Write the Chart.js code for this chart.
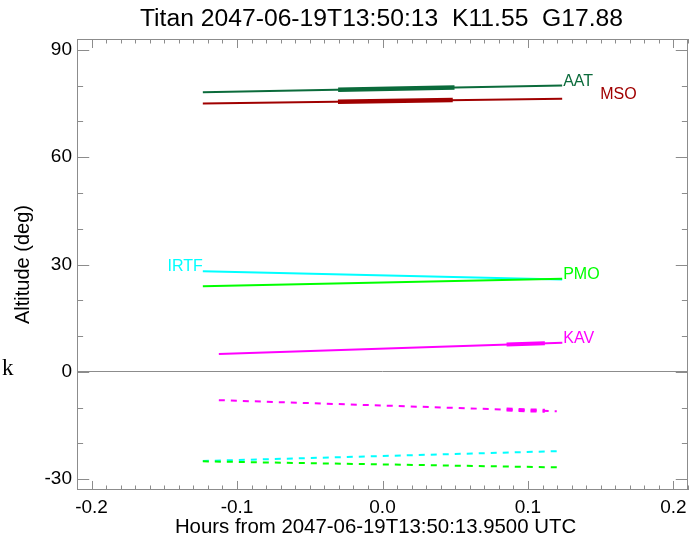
<!DOCTYPE html>
<html><head><meta charset="utf-8">
<script src="https://cdn.jsdelivr.net/npm/chart.js@4"></script>
<style>html,body{margin:0;padding:0;background:#fff;overflow:hidden}#wrap{width:700px;height:539px}</style>
</head><body><div id="wrap"><canvas id="c" width="700" height="539"></canvas></div>
<script>
// ---- text ----
const titleText = 'Titan 2047-06-19T13:50:13  K11.55  G17.88';
const xAxisTitle = 'Hours from 2047-06-19T13:50:13.9500 UTC';
const yAxisTitle = 'Altitude (deg)';
const sideMark = 'k';
// ---- ticks ----
const xTicks = [-0.2, -0.1, 0.0, 0.1, 0.2];
const xTickLabels = ['-0.2', '-0.1', '0.0', '0.1', '0.2'];
const yTicks = [-30, 0, 30, 60, 90];
const yTickLabels = ['-30', '0', '30', '60', '90'];
// ---- series (hours, altitude deg) ----
const aatHours = [-0.1235, 0.1235];
const aatAlt = [78.1, 80.0];
const aatObsHours = [-0.0305, 0.0495];
const aatObsAlt = [78.8, 79.43];
const msoHours = [-0.1235, 0.1235];
const msoAlt = [75.0, 76.33];
const msoObsHours = [-0.0306, 0.0483];
const msoObsAlt = [75.5, 75.93];
const irtfHours = [-0.1235, 0.1235];
const irtfAlt = [28.1, 25.8];
const pmoHours = [-0.1235, 0.1235];
const pmoAlt = [23.95, 26.0];
const kavHours = [-0.1125, 0.1236];
const kavAlt = [4.97, 8.15];
const kavObsHours = [0.0853, 0.1116];
const kavObsAlt = [7.63, 7.99];
// below-horizon (dashed) tracks
const kavLowHours = [-0.1125, 0.1198];
const kavLowAlt = [-7.9, -11.0];
const kavLowObsHours = [0.0853, 0.1116];
const kavLowObsAlt = [-10.54, -10.89];
const irtfLowHours = [-0.1235, 0.1235];
const irtfLowAlt = [-24.9, -22.1];
const pmoLowHours = [-0.1235, 0.1235];
const pmoLowAlt = [-25.0, -26.7];

const C = {aat:'#0b6b3b', mso:'#a00000', irtf:'#00ffff', pmo:'#00ff00', kav:'#ff00ff', frame:'#8c8c8c'};
const FONT = "'Liberation Sans', Arial, Helvetica, sans-serif";

function pts(xs, ys){ return xs.map((x,i)=>({x:x, y:ys[i]})); }
function ds(xs, ys, color, width, dash){
  return {data: pts(xs, ys), showLine:true, borderColor:color, backgroundColor:color,
    borderWidth:width, borderDash: dash || [], pointRadius:0, tension:0, fill:false};
}

const datasets = [
  ds(pmoLowHours, pmoLowAlt, C.pmo, 2, [6,6]),
  ds(irtfLowHours, irtfLowAlt, C.irtf, 2, [6,6]),
  ds(kavLowHours, kavLowAlt, C.kav, 2, [6,6]),
  ds(kavLowObsHours, kavLowObsAlt, C.kav, 4, [6,6]),
  ds(kavHours, kavAlt, C.kav, 2),
  ds(kavObsHours, kavObsAlt, C.kav, 4),
  ds(pmoHours, pmoAlt, C.pmo, 2),
  ds(irtfHours, irtfAlt, C.irtf, 2),
  ds(msoHours, msoAlt, C.mso, 2),
  ds(msoObsHours, msoObsAlt, C.mso, 4.5),
  ds(aatHours, aatAlt, C.aat, 2),
  ds(aatObsHours, aatObsAlt, C.aat, 4.5)
];

const seriesLabels = [
  {text:'AAT', x:aatHours[1], y:aatAlt[1], align:'left', dx:1, color:C.aat},
  {text:'MSO', x:msoHours[1], y:msoAlt[1], align:'left', dx:38, color:C.mso},
  {text:'IRTF', x:irtfHours[0], y:irtfAlt[0], align:'right', dx:0, color:C.irtf},
  {text:'PMO', x:pmoHours[1], y:pmoAlt[1], align:'left', dx:1, color:C.pmo},
  {text:'KAV', x:kavHours[1], y:kavAlt[1], align:'left', dx:1, color:C.kav}
];

function labelFor(v, ticks, labels){
  for (let i=0;i<ticks.length;i++) if (Math.abs(ticks[i]-v)<1e-9) return labels[i];
  return '';
}

const decor = {
  id:'decor',
  afterDraw(chart){
    const {ctx, chartArea:a, scales:{x, y}} = chart;
    ctx.save();
    ctx.strokeStyle = C.frame; ctx.lineWidth = 1;
    ctx.strokeRect(a.left+0.5, a.top+0.5, a.right-a.left-1, a.bottom-a.top-1);
    const W = a.right-a.left, H = a.bottom-a.top;
    ctx.beginPath();
    for (let k=-21;k<=21;k++){
      const v = k/100;
      const px = Math.round(x.getPixelForValue(v))+0.5;
      const len = (k%10===0) ? 0.02*H : 0.01*H;
      ctx.moveTo(px, a.bottom); ctx.lineTo(px, a.bottom-len);
      ctx.moveTo(px, a.top); ctx.lineTo(px, a.top+len);
    }
    for (let v=-30; v<=90; v+=10){
      const py = Math.round(y.getPixelForValue(v))+0.5;
      const len = (v%30===0) ? 0.02*W : 0.01*W;
      ctx.moveTo(a.left, py); ctx.lineTo(a.left+len, py);
      ctx.moveTo(a.right, py); ctx.lineTo(a.right-len, py);
    }
    ctx.stroke();
    // series labels
    ctx.font = '16px ' + FONT;
    ctx.textBaseline = 'alphabetic';
    seriesLabels.forEach(l=>{
      ctx.fillStyle = l.color;
      ctx.textAlign = l.align;
      ctx.fillText(l.text, x.getPixelForValue(l.x)+l.dx, y.getPixelForValue(l.y));
    });
    // title
    ctx.fillStyle = '#000';
    ctx.font = '24.7px ' + FONT;
    ctx.textAlign = 'center'; ctx.textBaseline = 'middle';
    ctx.fillText(titleText, (a.left+a.right)/2 - 1, 19);
    // x axis title
    ctx.font = '20.4px ' + FONT;
    ctx.fillText(xAxisTitle, (a.left+a.right)/2 - 7, 527);
    // side mark
    ctx.font = "23px 'Liberation Serif', 'DejaVu Serif', serif";
    ctx.textAlign = 'left'; ctx.textBaseline = 'alphabetic';
    ctx.fillText(sideMark, 2, 375);
    ctx.restore();
  }
};

new Chart(document.getElementById('c'), {
  type:'scatter',
  data:{datasets},
  options:{
    responsive:false, animation:false, devicePixelRatio:1,
    layout:{padding:{top:39, right:12, left:0, bottom:0}},
    plugins:{legend:{display:false}, tooltip:{enabled:false}, title:{display:false}},
    scales:{
      x:{type:'linear', min:-0.21, max:0.21,
        afterBuildTicks: s => { s.ticks = xTicks.map(v=>({value:v})); },
        afterFit: s => { s.height = 49; },
        ticks:{callback: v => labelFor(v, xTicks, xTickLabels), color:'#000', font:{family:FONT, size:19}, padding:6, maxRotation:0, autoSkip:false},
        grid:{display:false, drawTicks:false}, border:{display:false},
        title:{display:false, text:xAxisTitle}
      },
      y:{type:'linear', min:-33, max:93,
        afterBuildTicks: s => { s.ticks = yTicks.map(v=>({value:v})); },
        afterFit: s => { s.width = 77; },
        ticks:{callback: v => labelFor(v, yTicks, yTickLabels), color:'#000', font:{family:FONT, size:19}, padding:5, autoSkip:false},
        grid:{drawTicks:false, lineWidth:1, color: c => (c.tick && c.tick.value===0) ? C.frame : 'rgba(0,0,0,0)'},
        border:{display:false},
        title:{display:true, text:yAxisTitle, color:'#000', font:{family:FONT, size:20}, padding:{top:11, bottom:0}}
      }
    }
  },
  plugins:[decor]
});
</script>
</body></html>
